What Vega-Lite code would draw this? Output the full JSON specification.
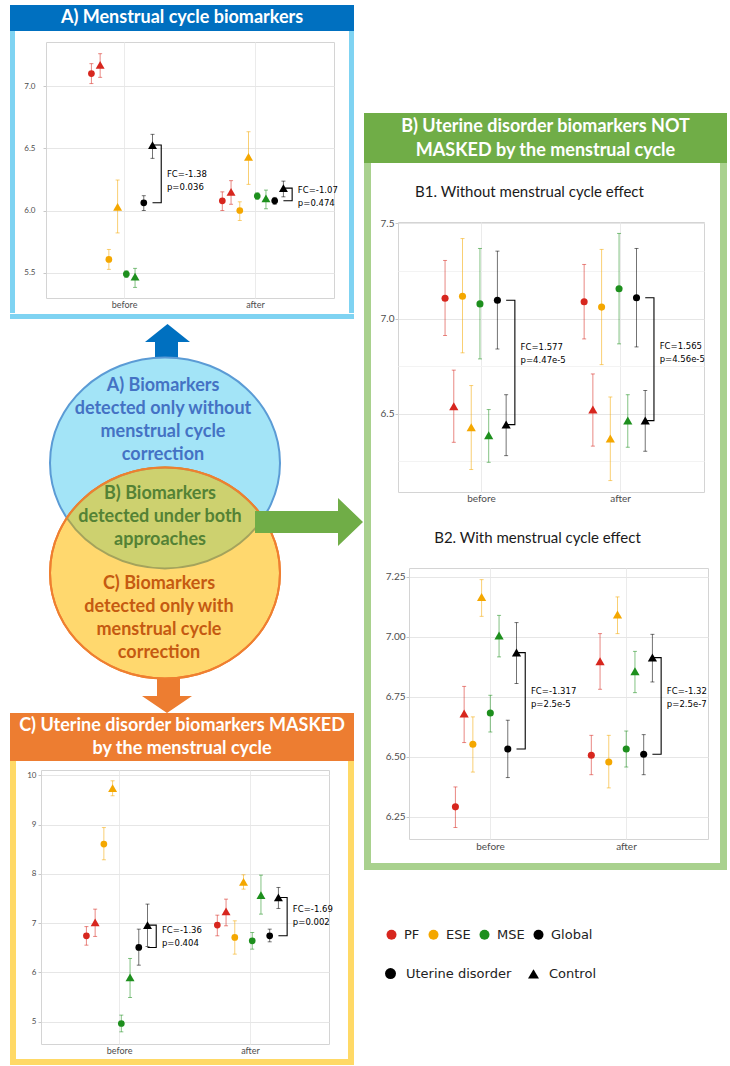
{
"$schema":"https://vega.github.io/schema/vega-lite/v6.json",
"background":"white",
"padding":{"left":10,"top":5,"right":0,"bottom":0},
"config":{"view":{"stroke":null},"axis":{"labelFont":"Lato"}},
"datasets":{
"A":[
{"time":"before","phase":"PF","status":"UD","grp":"PF|UD","m":7.10,"lo":7.02,"hi":7.18},
{"time":"before","phase":"PF","status":"C","grp":"PF|C","m":7.17,"lo":7.07,"hi":7.26},
{"time":"before","phase":"ESE","status":"UD","grp":"ESE|UD","m":5.607,"lo":5.527,"hi":5.687},
{"time":"before","phase":"ESE","status":"C","grp":"ESE|C","m":6.03,"lo":5.82,"hi":6.245},
{"time":"before","phase":"MSE","status":"UD","grp":"MSE|UD","m":5.489,"lo":5.462,"hi":5.516},
{"time":"before","phase":"MSE","status":"C","grp":"MSE|C","m":5.468,"lo":5.382,"hi":5.535},
{"time":"before","phase":"Global","status":"UD","grp":"Global|UD","m":6.062,"lo":6.0,"hi":6.119},
{"time":"before","phase":"Global","status":"C","grp":"Global|C","m":6.526,"lo":6.419,"hi":6.612},
{"time":"after","phase":"PF","status":"UD","grp":"PF|UD","m":6.078,"lo":6.0,"hi":6.15},
{"time":"after","phase":"PF","status":"C","grp":"PF|C","m":6.15,"lo":6.05,"hi":6.24},
{"time":"after","phase":"ESE","status":"UD","grp":"ESE|UD","m":6.0,"lo":5.92,"hi":6.07},
{"time":"after","phase":"ESE","status":"C","grp":"ESE|C","m":6.43,"lo":6.21,"hi":6.633},
{"time":"after","phase":"MSE","status":"UD","grp":"MSE|UD","m":6.116,"lo":6.09,"hi":6.143},
{"time":"after","phase":"MSE","status":"C","grp":"MSE|C","m":6.097,"lo":6.014,"hi":6.164},
{"time":"after","phase":"Global","status":"UD","grp":"Global|UD","m":6.078,"lo":6.05,"hi":6.105},
{"time":"after","phase":"Global","status":"C","grp":"Global|C","m":6.18,"lo":6.11,"hi":6.236}
],
"A_br":[
{"time":"before","grp":"Global|C","y":6.526,"o":1},{"time":"before","grp":"bracket","y":6.526,"o":2},{"time":"before","grp":"bracket","y":6.062,"o":3},{"time":"before","grp":"Global|C","y":6.062,"o":4},
{"time":"after","grp":"Global|C","y":6.18,"o":1},{"time":"after","grp":"bracket","y":6.18,"o":2},{"time":"after","grp":"bracket","y":6.078,"o":3},{"time":"after","grp":"Global|C","y":6.078,"o":4}
],
"A_lab":[
{"time":"before","grp":"label","y":6.245,"label":"FC=-1.38\np=0.036"},
{"time":"after","grp":"label","y":6.116,"label":"FC=-1.07\np=0.474"}
],
"B1":[
{"time":"before","phase":"PF","status":"UD","grp":"PF|UD","m":7.107,"lo":6.911,"hi":7.305},
{"time":"before","phase":"PF","status":"C","grp":"PF|C","m":6.539,"lo":6.35,"hi":6.729},
{"time":"before","phase":"ESE","status":"UD","grp":"ESE|UD","m":7.117,"lo":6.82,"hi":7.42},
{"time":"before","phase":"ESE","status":"C","grp":"ESE|C","m":6.429,"lo":6.207,"hi":6.648},
{"time":"before","phase":"MSE","status":"UD","grp":"MSE|UD","m":7.077,"lo":6.788,"hi":7.368},
{"time":"before","phase":"MSE","status":"C","grp":"MSE|C","m":6.387,"lo":6.245,"hi":6.522},
{"time":"before","phase":"Global","status":"UD","grp":"Global|UD","m":7.096,"lo":6.84,"hi":7.354},
{"time":"before","phase":"Global","status":"C","grp":"Global|C","m":6.443,"lo":6.28,"hi":6.6},
{"time":"after","phase":"PF","status":"UD","grp":"PF|UD","m":7.088,"lo":6.893,"hi":7.284},
{"time":"after","phase":"PF","status":"C","grp":"PF|C","m":6.522,"lo":6.33,"hi":6.709},
{"time":"after","phase":"ESE","status":"UD","grp":"ESE|UD","m":7.06,"lo":6.758,"hi":7.363},
{"time":"after","phase":"ESE","status":"C","grp":"ESE|C","m":6.37,"lo":6.149,"hi":6.588},
{"time":"after","phase":"MSE","status":"UD","grp":"MSE|UD","m":7.156,"lo":6.867,"hi":7.447},
{"time":"after","phase":"MSE","status":"C","grp":"MSE|C","m":6.464,"lo":6.324,"hi":6.6},
{"time":"after","phase":"Global","status":"UD","grp":"Global|UD","m":7.109,"lo":6.851,"hi":7.368},
{"time":"after","phase":"Global","status":"C","grp":"Global|C","m":6.464,"lo":6.303,"hi":6.622}
],
"B1_br":[
{"time":"before","grp":"Global|C","y":7.096,"o":1},{"time":"before","grp":"bracket","y":7.096,"o":2},{"time":"before","grp":"bracket","y":6.443,"o":3},{"time":"before","grp":"Global|C","y":6.443,"o":4},
{"time":"after","grp":"Global|C","y":7.109,"o":1},{"time":"after","grp":"bracket","y":7.109,"o":2},{"time":"after","grp":"bracket","y":6.464,"o":3},{"time":"after","grp":"Global|C","y":6.464,"o":4}
],
"B1_lab":[
{"time":"before","grp":"label","y":6.816,"label":"FC=1.577\np=4.47e-5"},
{"time":"after","grp":"label","y":6.82,"label":"FC=1.565\np=4.56e-5"}
],
"B2":[
{"time":"before","phase":"PF","status":"UD","grp":"PF|UD","m":6.292,"lo":6.206,"hi":6.375},
{"time":"before","phase":"PF","status":"C","grp":"PF|C","m":6.681,"lo":6.56,"hi":6.794},
{"time":"before","phase":"ESE","status":"UD","grp":"ESE|UD","m":6.553,"lo":6.437,"hi":6.667},
{"time":"before","phase":"ESE","status":"C","grp":"ESE|C","m":7.167,"lo":7.086,"hi":7.239},
{"time":"before","phase":"MSE","status":"UD","grp":"MSE|UD","m":6.683,"lo":6.604,"hi":6.757},
{"time":"before","phase":"MSE","status":"C","grp":"MSE|C","m":7.006,"lo":6.917,"hi":7.09},
{"time":"before","phase":"Global","status":"UD","grp":"Global|UD","m":6.533,"lo":6.414,"hi":6.653},
{"time":"before","phase":"Global","status":"C","grp":"Global|C","m":6.935,"lo":6.806,"hi":7.06},
{"time":"after","phase":"PF","status":"UD","grp":"PF|UD","m":6.507,"lo":6.426,"hi":6.59},
{"time":"after","phase":"PF","status":"C","grp":"PF|C","m":6.899,"lo":6.782,"hi":7.014},
{"time":"after","phase":"ESE","status":"UD","grp":"ESE|UD","m":6.479,"lo":6.371,"hi":6.59},
{"time":"after","phase":"ESE","status":"C","grp":"ESE|C","m":7.094,"lo":7.014,"hi":7.167},
{"time":"after","phase":"MSE","status":"UD","grp":"MSE|UD","m":6.533,"lo":6.458,"hi":6.608},
{"time":"after","phase":"MSE","status":"C","grp":"MSE|C","m":6.857,"lo":6.768,"hi":6.94},
{"time":"after","phase":"Global","status":"UD","grp":"Global|UD","m":6.511,"lo":6.426,"hi":6.593},
{"time":"after","phase":"Global","status":"C","grp":"Global|C","m":6.914,"lo":6.8125,"hi":7.011}
],
"B2_br":[
{"time":"before","grp":"Global|C","y":6.935,"o":1},{"time":"before","grp":"bracket","y":6.935,"o":2},{"time":"before","grp":"bracket","y":6.533,"o":3},{"time":"before","grp":"Global|C","y":6.533,"o":4},
{"time":"after","grp":"Global|C","y":6.914,"o":1},{"time":"after","grp":"bracket","y":6.914,"o":2},{"time":"after","grp":"bracket","y":6.511,"o":3},{"time":"after","grp":"Global|C","y":6.511,"o":4}
],
"B2_lab":[
{"time":"before","grp":"label","y":6.746,"label":"FC=-1.317\np=2.5e-5"},
{"time":"after","grp":"label","y":6.746,"label":"FC=-1.32\np=2.5e-7"}
],
"C":[
{"time":"before","phase":"PF","status":"UD","grp":"PF|UD","m":6.743,"lo":6.553,"hi":6.93},
{"time":"before","phase":"PF","status":"C","grp":"PF|C","m":7.014,"lo":6.73,"hi":7.284},
{"time":"before","phase":"ESE","status":"UD","grp":"ESE|UD","m":8.604,"lo":8.286,"hi":8.94},
{"time":"before","phase":"ESE","status":"C","grp":"ESE|C","m":9.74,"lo":9.585,"hi":9.889},
{"time":"before","phase":"MSE","status":"UD","grp":"MSE|UD","m":4.963,"lo":4.794,"hi":5.133},
{"time":"before","phase":"MSE","status":"C","grp":"MSE|C","m":5.897,"lo":5.491,"hi":6.283},
{"time":"before","phase":"Global","status":"UD","grp":"Global|UD","m":6.506,"lo":6.147,"hi":6.878},
{"time":"before","phase":"Global","status":"C","grp":"Global|C","m":6.96,"lo":6.526,"hi":7.386},
{"time":"after","phase":"PF","status":"UD","grp":"PF|UD","m":6.96,"lo":6.743,"hi":7.162},
{"time":"after","phase":"PF","status":"C","grp":"PF|C","m":7.237,"lo":6.946,"hi":7.487},
{"time":"after","phase":"ESE","status":"UD","grp":"ESE|UD","m":6.709,"lo":6.371,"hi":7.047},
{"time":"after","phase":"ESE","status":"C","grp":"ESE|C","m":7.839,"lo":7.69,"hi":7.981},
{"time":"after","phase":"MSE","status":"UD","grp":"MSE|UD","m":6.641,"lo":6.472,"hi":6.81},
{"time":"after","phase":"MSE","status":"C","grp":"MSE|C","m":7.568,"lo":7.183,"hi":7.974},
{"time":"after","phase":"Global","status":"UD","grp":"Global|UD","m":6.743,"lo":6.621,"hi":6.878},
{"time":"after","phase":"Global","status":"C","grp":"Global|C","m":7.521,"lo":7.298,"hi":7.724}
],
"C_br":[
{"time":"before","grp":"Global|C","y":6.96,"o":1},{"time":"before","grp":"bracket","y":6.96,"o":2},{"time":"before","grp":"bracket","y":6.506,"o":3},{"time":"before","grp":"Global|C","y":6.506,"o":4},
{"time":"after","grp":"Global|C","y":7.521,"o":1},{"time":"after","grp":"bracket","y":7.521,"o":2},{"time":"after","grp":"bracket","y":6.743,"o":3},{"time":"after","grp":"Global|C","y":6.743,"o":4}
],
"C_lab":[
{"time":"before","grp":"label","y":6.73,"label":"FC=-1.36\np=0.404"},
{"time":"after","grp":"label","y":7.162,"label":"FC=-1.69\np=0.002"}
],
"venn":[
{"set":"A","label":"A) Biomarkers\ndetected only without\nmenstrual cycle\ncorrection"},
{"set":"B","label":"B) Biomarkers\ndetected under both\napproaches"},
{"set":"C","label":"C) Biomarkers\ndetected only with\nmenstrual cycle\ncorrection"}
]
},
"spacing":1,
"resolve":{"scale":{"color":"independent","shape":"independent","size":"independent"}},
"hconcat":[
{"spacing":0,"resolve":{"scale":{"color":"independent","shape":"independent","size":"independent"}},"vconcat":[
 {"width":344,"height":26,"view":{"fill":"#0070c0"},"data":{"values":[{"t":"A) Menstrual cycle biomarkers"}]},"mark":{"type":"text","font":"Lato","fontWeight":"bold","fontSize":18,"color":"white"},"encoding":{"text":{"field":"t"}}},
 {"spacing":0,"hconcat":[
  {"width":5,"height":282,"view":{"fill":"#7fd3f2"},"data":{"values":[{}]},"mark":{"type":"text","fontSize":0}},
  {"spacing":0,"vconcat":[
   {"width":334,"height":10,"data":{"values":[{}]},"mark":{"type":"text","fontSize":0}},
   {"spacing":0,"hconcat":[
   {"width":1,"height":1,"data":{"values":[{}]},"mark":{"type":"text","fontSize":0}},
   {"width":288,"height":256,"view":{"stroke":"#d4d4d4","strokeWidth":1},
    "encoding":{
     "x":{"field":"time","type":"nominal","scale":{"type":"band","domain":["before","after"],"paddingInner":0.2,"paddingOuter":0.2},"axis":{"title":null,"labelAngle":0,"domain":false,"ticks":false,"tickSize":0,"labelPadding":2,"labelFontSize":9,"labelColor":"#4d4d4d","grid":true,"gridColor":"#ebebeb","bandPosition":0.5,"minExtent":15,"maxExtent":15}},
     "xOffset":{"field":"grp","type":"nominal","scale":{"domain":["PF|UD","PF|C","ESE|UD","ESE|C","MSE|UD","MSE|C","Global|UD","Global|C","bracket","label"],"paddingInner":0,"paddingOuter":1.42,"align":0.852}}
    },
    "layer":[
     {"data":{"name":"A"},"mark":{"type":"rule","strokeWidth":1,"opacity":0.55},"encoding":{"y":{"field":"lo","type":"quantitative","scale":{"domain":[5.297,7.354],"nice":false,"zero":false},"axis":{"title":null,"domain":false,"tickSize":3,"tickColor":{"condition":{"test":"(datum.value*2)%1==0","value":"#c8c8c8"},"value":"transparent"},"labelPadding":8,"labelFontSize":8,"labelColor":"#4d4d4d","values":[5.5,5.75,6,6.25,6.5,6.75,7,7.25],"labelExpr":"(datum.value*2)%1==0 ? format(datum.value,'.1f') : ''","grid":true,"gridColor":{"condition":{"test":"(datum.value*2)%1==0","value":"#e6e6e6"},"value":"#f3f3f3"},"minExtent":29,"maxExtent":29}},"y2":{"field":"hi"},"color":{"field":"phase","type":"nominal","scale":{"domain":["PF","ESE","MSE","Global"],"range":["#d7261e","#f4a700","#1d8f1d","#000000"]},"legend":null}}},
     {"data":{"name":"A"},"mark":{"type":"tick","thickness":1,"size":4,"opacity":0.55},"encoding":{"y":{"field":"lo","type":"quantitative"},"color":{"field":"phase","type":"nominal","legend":null}}},
     {"data":{"name":"A"},"mark":{"type":"tick","thickness":1,"size":4,"opacity":0.55},"encoding":{"y":{"field":"hi","type":"quantitative"},"color":{"field":"phase","type":"nominal","legend":null}}},
     {"data":{"name":"A_br"},"mark":{"type":"line","color":"black","strokeWidth":1.1},"encoding":{"y":{"field":"y","type":"quantitative"},"detail":{"field":"time"},"order":{"field":"o"}}},
     {"data":{"name":"A"},"mark":{"type":"point","filled":true,"opacity":1},"encoding":{"y":{"field":"m","type":"quantitative"},"color":{"field":"phase","type":"nominal","legend":null},"shape":{"field":"status","type":"nominal","scale":{"domain":["UD","C"],"range":["circle","triangle-up"]},"legend":null},"size":{"field":"status","type":"ordinal","scale":{"domain":["UD","C"],"range":[45,80]},"legend":null}}},
     {"data":{"name":"A_lab"},"mark":{"type":"text","align":"left","baseline":"middle","font":"DejaVu Sans","fontSize":8.5,"lineBreak":"\n","lineHeight":13,"dx":-3,"dy":-6.5,"color":"black"},"encoding":{"y":{"field":"y","type":"quantitative"},"text":{"field":"label"}}}
    ]}]}
  ]},
  {"width":5,"height":282,"view":{"fill":"#7fd3f2"},"data":{"values":[{}]},"mark":{"type":"text","fontSize":0}}
 ]},
 {"width":344,"height":5,"view":{"fill":"#7fd3f2"},"data":{"values":[{}]},"mark":{"type":"text","fontSize":0}},
 {"width":352,"height":394,"data":{"name":"venn"},
  "layer":[
   {"transform":[{"filter":"datum.set == 'A'"}],"mark":{"type":"point","shape":"M-0.185,-1.92L0.04,-1.74L-0.08,-1.74L-0.08,-1.56L-0.31,-1.56L-0.31,-1.74L-0.41,-1.74Z","size":40000,"filled":true,"color":"#0070c0","opacity":1}},
   {"transform":[{"filter":"datum.set == 'C'"}],"mark":{"type":"point","shape":"M-0.29,1.6L-0.06,1.6L-0.06,1.8L0.06,1.8L-0.19,1.97L-0.44,1.8L-0.29,1.8Z","size":40000,"filled":true,"color":"#ed7d31","opacity":1}},
   {"transform":[{"filter":"datum.set == 'A'"}],"mark":{"type":"point","shape":"M-1.36,-0.53A1.15,1.055,0,1,1,0.94,-0.53A1.15,1.055,0,1,1,-1.36,-0.53Z","size":40000,"filled":true,"fill":"#a3e4f7","stroke":"#5b9bd5","strokeWidth":2,"opacity":1}},
   {"transform":[{"filter":"datum.set == 'C'"}],"mark":{"type":"point","shape":"M-1.36,0.57A1.15,1.055,0,1,1,0.94,0.57A1.15,1.055,0,1,1,-1.36,0.57Z","size":40000,"filled":true,"fill":"#ffd86e","stroke":"#ef7f30","strokeWidth":2,"opacity":1}},
   {"transform":[{"filter":"datum.set == 'B'"}],"mark":{"type":"point","shape":"M-1.191,0.02A1.15,1.055,0,0,1,0.771,0.02A1.15,1.055,0,0,1,-1.191,0.02Z","size":40000,"filled":true,"fill":"#cdd16f","stroke":"#a4a35c","strokeWidth":2,"opacity":1}},
   {"transform":[{"filter":"datum.set == 'C'"}],"mark":{"type":"point","shape":"M-1.36,0.57A1.15,1.055,0,1,1,0.94,0.57A1.15,1.055,0,1,1,-1.36,0.57Z","size":40000,"filled":false,"stroke":"#ef7f30","strokeWidth":2,"opacity":1}},
   {"transform":[{"filter":"datum.set == 'B'"}],"mark":{"type":"point","shape":"M0.69,-0.05L1.52,-0.05L1.52,-0.18L1.77,0.06L1.52,0.3L1.52,0.17L0.69,0.17Z","size":40000,"filled":true,"color":"#70ad47","opacity":1}},
   {"transform":[{"filter":"datum.set == 'A'"}],"mark":{"type":"text","font":"Lato","fontWeight":"bold","fontSize":18,"color":"#4472c4","lineBreak":"\n","lineHeight":23,"dx":-23,"dy":-130},"encoding":{"text":{"field":"label"}}},
   {"transform":[{"filter":"datum.set == 'B'"}],"mark":{"type":"text","font":"Lato","fontWeight":"bold","fontSize":18,"color":"#548235","lineBreak":"\n","lineHeight":23,"dx":-26,"dy":-22},"encoding":{"text":{"field":"label"}}},
   {"transform":[{"filter":"datum.set == 'C'"}],"mark":{"type":"text","font":"Lato","fontWeight":"bold","fontSize":18,"color":"#c55a11","lineBreak":"\n","lineHeight":23,"dx":-27,"dy":68},"encoding":{"text":{"field":"label"}}}
  ]},
 {"width":344,"height":48,"view":{"fill":"#ed7d31"},"data":{"values":[{"t":"C) Uterine disorder biomarkers MASKED\nby the menstrual cycle"}]},"mark":{"type":"text","font":"Lato","fontWeight":"bold","fontSize":18,"color":"white","lineBreak":"\n","lineHeight":23,"dy":-11},"encoding":{"text":{"field":"t"}}},
 {"spacing":0,"hconcat":[
  {"width":6,"height":298,"view":{"fill":"#ffd966"},"data":{"values":[{}]},"mark":{"type":"text","fontSize":0}},
  {"spacing":0,"vconcat":[
   {"width":332,"height":8,"data":{"values":[{}]},"mark":{"type":"text","fontSize":0}},
   {"spacing":0,"hconcat":[
   {"width":1,"height":1,"data":{"values":[{}]},"mark":{"type":"text","fontSize":0}},
   {"width":288,"height":274,"view":{"stroke":"#d4d4d4","strokeWidth":1},
    "encoding":{
     "x":{"field":"time","type":"nominal","scale":{"type":"band","domain":["before","after"],"paddingInner":0.2,"paddingOuter":0.2},"axis":{"title":null,"labelAngle":0,"domain":false,"ticks":false,"tickSize":0,"labelPadding":2,"labelFontSize":9,"labelColor":"#4d4d4d","grid":true,"gridColor":"#ebebeb","bandPosition":0.5,"minExtent":14,"maxExtent":14}},
     "xOffset":{"field":"grp","type":"nominal","scale":{"domain":["PF|UD","PF|C","ESE|UD","ESE|C","MSE|UD","MSE|C","Global|UD","Global|C","bracket","label"],"paddingInner":0,"paddingOuter":1.42,"align":0.852}}
    },
    "layer":[
     {"data":{"name":"C"},"mark":{"type":"rule","strokeWidth":1,"opacity":0.55},"encoding":{"y":{"field":"lo","type":"quantitative","scale":{"domain":[4.547,10.108],"nice":false,"zero":false},"axis":{"title":null,"domain":false,"tickSize":3,"tickColor":{"condition":{"test":"datum.value%1==0","value":"#c8c8c8"},"value":"transparent"},"labelPadding":2,"labelFontSize":8,"labelColor":"#4d4d4d","values":[5,5.5,6,6.5,7,7.5,8,8.5,9,9.5,10],"labelExpr":"datum.value%1==0 ? format(datum.value,'d') : ''","grid":true,"gridColor":{"condition":{"test":"datum.value%1==0","value":"#e6e6e6"},"value":"#f3f3f3"},"minExtent":23,"maxExtent":23}},"y2":{"field":"hi"},"color":{"field":"phase","type":"nominal","scale":{"domain":["PF","ESE","MSE","Global"],"range":["#d7261e","#f4a700","#1d8f1d","#000000"]},"legend":null}}},
     {"data":{"name":"C"},"mark":{"type":"tick","thickness":1,"size":4,"opacity":0.55},"encoding":{"y":{"field":"lo","type":"quantitative"},"color":{"field":"phase","type":"nominal","legend":null}}},
     {"data":{"name":"C"},"mark":{"type":"tick","thickness":1,"size":4,"opacity":0.55},"encoding":{"y":{"field":"hi","type":"quantitative"},"color":{"field":"phase","type":"nominal","legend":null}}},
     {"data":{"name":"C_br"},"mark":{"type":"line","color":"black","strokeWidth":1.1},"encoding":{"y":{"field":"y","type":"quantitative"},"detail":{"field":"time"},"order":{"field":"o"}}},
     {"data":{"name":"C"},"mark":{"type":"point","filled":true,"opacity":1},"encoding":{"y":{"field":"m","type":"quantitative"},"color":{"field":"phase","type":"nominal","legend":null},"shape":{"field":"status","type":"nominal","scale":{"domain":["UD","C"],"range":["circle","triangle-up"]},"legend":null},"size":{"field":"status","type":"ordinal","scale":{"domain":["UD","C"],"range":[45,80]},"legend":null}}},
     {"data":{"name":"C_lab"},"mark":{"type":"text","align":"left","baseline":"middle","font":"DejaVu Sans","fontSize":8.5,"lineBreak":"\n","lineHeight":13,"dx":-3,"dy":-6.5,"color":"black"},"encoding":{"y":{"field":"y","type":"quantitative"},"text":{"field":"label"}}}
    ]}]}
  ]},
  {"width":6,"height":298,"view":{"fill":"#ffd966"},"data":{"values":[{}]},"mark":{"type":"text","fontSize":0}}
 ]},
 {"width":344,"height":6,"view":{"fill":"#ffd966"},"data":{"values":[{}]},"mark":{"type":"text","fontSize":0}}
]},
{"spacing":0,"resolve":{"scale":{"color":"independent","shape":"independent","size":"independent"}},"vconcat":[
 {"width":363,"height":108,"data":{"values":[{}]},"mark":{"type":"text","fontSize":0}},
 {"width":363,"height":50,"view":{"fill":"#70ad47"},"data":{"values":[{"t":"B) Uterine disorder biomarkers NOT\nMASKED by the menstrual cycle"}]},"mark":{"type":"text","font":"Lato","fontWeight":"bold","fontSize":18,"color":"white","lineBreak":"\n","lineHeight":24,"dy":-11},"encoding":{"text":{"field":"t"}}},
 {"spacing":0,"hconcat":[
  {"width":7,"height":700,"view":{"fill":"#a9d18e"},"data":{"values":[{}]},"mark":{"type":"text","fontSize":0}},
  {"spacing":0,"vconcat":[
   {"width":349,"height":54,"data":{"values":[{"t":"B1. Without  menstrual cycle effect"}]},"mark":{"type":"text","font":"Lato","fontSize":15,"color":"#1a1a1a","dx":-16,"dy":2},"encoding":{"text":{"field":"t"}}},
   {"spacing":0,"hconcat":[
   {"width":1,"height":1,"data":{"values":[{}]},"mark":{"type":"text","fontSize":0}},
   {"width":306,"height":270,"view":{"stroke":"#d4d4d4","strokeWidth":1},
    "encoding":{
     "x":{"field":"time","type":"nominal","scale":{"type":"band","domain":["before","after"],"paddingInner":0.2,"paddingOuter":0.2},"axis":{"title":null,"labelAngle":0,"domain":false,"ticks":false,"tickSize":0,"labelPadding":1,"labelFontSize":10,"labelColor":"#4d4d4d","grid":true,"gridColor":"#ebebeb","bandPosition":0.5,"minExtent":14,"maxExtent":14}},
     "xOffset":{"field":"grp","type":"nominal","scale":{"domain":["PF|UD","PF|C","ESE|UD","ESE|C","MSE|UD","MSE|C","Global|UD","Global|C","bracket","label"],"paddingInner":0,"paddingOuter":1.29,"align":0.888}}
    },
    "layer":[
     {"data":{"name":"B1"},"mark":{"type":"rule","strokeWidth":1,"opacity":0.55},"encoding":{"y":{"field":"lo","type":"quantitative","scale":{"domain":[6.089,7.507],"nice":false,"zero":false},"axis":{"title":null,"domain":false,"tickSize":3,"tickColor":{"condition":{"test":"(datum.value*2)%1==0","value":"#c8c8c8"},"value":"transparent"},"labelPadding":1,"labelFontSize":10,"labelColor":"#4d4d4d","values":[6.25,6.5,6.75,7,7.25,7.5],"labelExpr":"(datum.value*2)%1==0 ? format(datum.value,'.1f') : ''","grid":true,"gridColor":{"condition":{"test":"(datum.value*2)%1==0","value":"#e6e6e6"},"value":"#f3f3f3"},"minExtent":25,"maxExtent":25}},"y2":{"field":"hi"},"color":{"field":"phase","type":"nominal","scale":{"domain":["PF","ESE","MSE","Global"],"range":["#d7261e","#f4a700","#1d8f1d","#000000"]},"legend":null}}},
     {"data":{"name":"B1"},"mark":{"type":"tick","thickness":1,"size":4,"opacity":0.55},"encoding":{"y":{"field":"lo","type":"quantitative"},"color":{"field":"phase","type":"nominal","legend":null}}},
     {"data":{"name":"B1"},"mark":{"type":"tick","thickness":1,"size":4,"opacity":0.55},"encoding":{"y":{"field":"hi","type":"quantitative"},"color":{"field":"phase","type":"nominal","legend":null}}},
     {"data":{"name":"B1_br"},"mark":{"type":"line","color":"black","strokeWidth":1.1},"encoding":{"y":{"field":"y","type":"quantitative"},"detail":{"field":"time"},"order":{"field":"o"}}},
     {"data":{"name":"B1"},"mark":{"type":"point","filled":true,"opacity":1},"encoding":{"y":{"field":"m","type":"quantitative"},"color":{"field":"phase","type":"nominal","legend":null},"shape":{"field":"status","type":"nominal","scale":{"domain":["UD","C"],"range":["circle","triangle-up"]},"legend":null},"size":{"field":"status","type":"ordinal","scale":{"domain":["UD","C"],"range":[50,85]},"legend":null}}},
     {"data":{"name":"B1_lab"},"mark":{"type":"text","align":"left","baseline":"middle","font":"DejaVu Sans","fontSize":8.5,"lineBreak":"\n","lineHeight":13,"dx":-3,"dy":-6.5,"color":"black"},"encoding":{"y":{"field":"y","type":"quantitative"},"text":{"field":"label"}}}
    ]}]},
   {"width":349,"height":60,"data":{"values":[{"t":"B2. With menstrual cycle effect"}]},"mark":{"type":"text","font":"Lato","fontSize":15,"color":"#1a1a1a","dx":-8,"dy":1},"encoding":{"text":{"field":"t"}}},
   {"spacing":0,"hconcat":[
   {"width":1,"height":1,"data":{"values":[{}]},"mark":{"type":"text","fontSize":0}},
   {"width":299,"height":271,"view":{"stroke":"#d4d4d4","strokeWidth":1},
    "encoding":{
     "x":{"field":"time","type":"nominal","scale":{"type":"band","domain":["before","after"],"paddingInner":0.2,"paddingOuter":0.2},"axis":{"title":null,"labelAngle":0,"domain":false,"ticks":false,"tickSize":0,"labelPadding":2,"labelFontSize":10,"labelColor":"#4d4d4d","grid":true,"gridColor":"#ebebeb","bandPosition":0.5,"minExtent":14,"maxExtent":14}},
     "xOffset":{"field":"grp","type":"nominal","scale":{"domain":["PF|UD","PF|C","ESE|UD","ESE|C","MSE|UD","MSE|C","Global|UD","Global|C","bracket","label"],"paddingInner":0,"paddingOuter":1.47,"align":0.84}}
    },
    "layer":[
     {"data":{"name":"B2"},"mark":{"type":"rule","strokeWidth":1,"opacity":0.55},"encoding":{"y":{"field":"lo","type":"quantitative","scale":{"domain":[6.158,7.2875],"nice":false,"zero":false},"axis":{"title":null,"domain":false,"tickSize":3,"tickColor":{"condition":{"test":"(datum.value*4)%1==0","value":"#c8c8c8"},"value":"transparent"},"labelPadding":1,"labelFontSize":10,"labelColor":"#4d4d4d","values":[6.25,6.375,6.5,6.625,6.75,6.875,7,7.125,7.25],"labelExpr":"(datum.value*4)%1==0 ? format(datum.value,'.2f') : ''","grid":true,"gridColor":{"condition":{"test":"(datum.value*4)%1==0","value":"#e6e6e6"},"value":"#f3f3f3"},"minExtent":36,"maxExtent":36}},"y2":{"field":"hi"},"color":{"field":"phase","type":"nominal","scale":{"domain":["PF","ESE","MSE","Global"],"range":["#d7261e","#f4a700","#1d8f1d","#000000"]},"legend":null}}},
     {"data":{"name":"B2"},"mark":{"type":"tick","thickness":1,"size":4,"opacity":0.55},"encoding":{"y":{"field":"lo","type":"quantitative"},"color":{"field":"phase","type":"nominal","legend":null}}},
     {"data":{"name":"B2"},"mark":{"type":"tick","thickness":1,"size":4,"opacity":0.55},"encoding":{"y":{"field":"hi","type":"quantitative"},"color":{"field":"phase","type":"nominal","legend":null}}},
     {"data":{"name":"B2_br"},"mark":{"type":"line","color":"black","strokeWidth":1.1},"encoding":{"y":{"field":"y","type":"quantitative"},"detail":{"field":"time"},"order":{"field":"o"}}},
     {"data":{"name":"B2"},"mark":{"type":"point","filled":true,"opacity":1},"encoding":{"y":{"field":"m","type":"quantitative"},"color":{"field":"phase","type":"nominal","legend":null},"shape":{"field":"status","type":"nominal","scale":{"domain":["UD","C"],"range":["circle","triangle-up"]},"legend":null},"size":{"field":"status","type":"ordinal","scale":{"domain":["UD","C"],"range":[50,85]},"legend":null}}},
     {"data":{"name":"B2_lab"},"mark":{"type":"text","align":"left","baseline":"middle","font":"DejaVu Sans","fontSize":8.5,"lineBreak":"\n","lineHeight":13,"dx":-3,"dy":-6.5,"color":"black"},"encoding":{"y":{"field":"y","type":"quantitative"},"text":{"field":"label"}}}
    ]}]},
   {"width":349,"height":7,"data":{"values":[{}]},"mark":{"type":"text","fontSize":0}}
  ]},
  {"width":7,"height":700,"view":{"fill":"#a9d18e"},"data":{"values":[{}]},"mark":{"type":"text","fontSize":0}}
 ]},
 {"width":363,"height":7,"view":{"fill":"#a9d18e"},"data":{"values":[{}]},"mark":{"type":"text","fontSize":0}},
 {"width":363,"height":150,
  "resolve":{"scale":{"color":"independent","shape":"independent"}},
  "layer":[
   {"data":{"values":[{"phase":"PF"},{"phase":"ESE"},{"phase":"MSE"},{"phase":"Global"}]},"mark":{"type":"point","filled":true,"opacity":0},"encoding":{"color":{"field":"phase","type":"nominal","scale":{"domain":["PF","ESE","MSE","Global"],"range":["#d7261e","#f4a700","#1d8f1d","#000000"]},"legend":{"title":null,"orient":"none","legendX":21,"legendY":58,"direction":"horizontal","symbolType":"circle","symbolSize":100,"symbolOpacity":1,"labelFont":"DejaVu Sans","labelFontSize":13,"labelColor":"#222222","labelOffset":6,"columnPadding":7,"padding":0}}}},
   {"data":{"values":[{"status":"Uterine disorder"},{"status":"Control"}]},"mark":{"type":"point","filled":true,"opacity":0,"color":"black"},"encoding":{"shape":{"field":"status","type":"nominal","scale":{"domain":["Uterine disorder","Control"],"range":["circle","triangle-up"]},"legend":{"title":null,"orient":"none","legendX":20,"legendY":97,"direction":"horizontal","symbolSize":120,"symbolOpacity":1,"symbolFillColor":"black","symbolStrokeColor":"black","labelFont":"DejaVu Sans","labelFontSize":13,"labelColor":"#222222","labelOffset":9,"columnPadding":13,"padding":0}}}}
  ]}
]}
]
}
